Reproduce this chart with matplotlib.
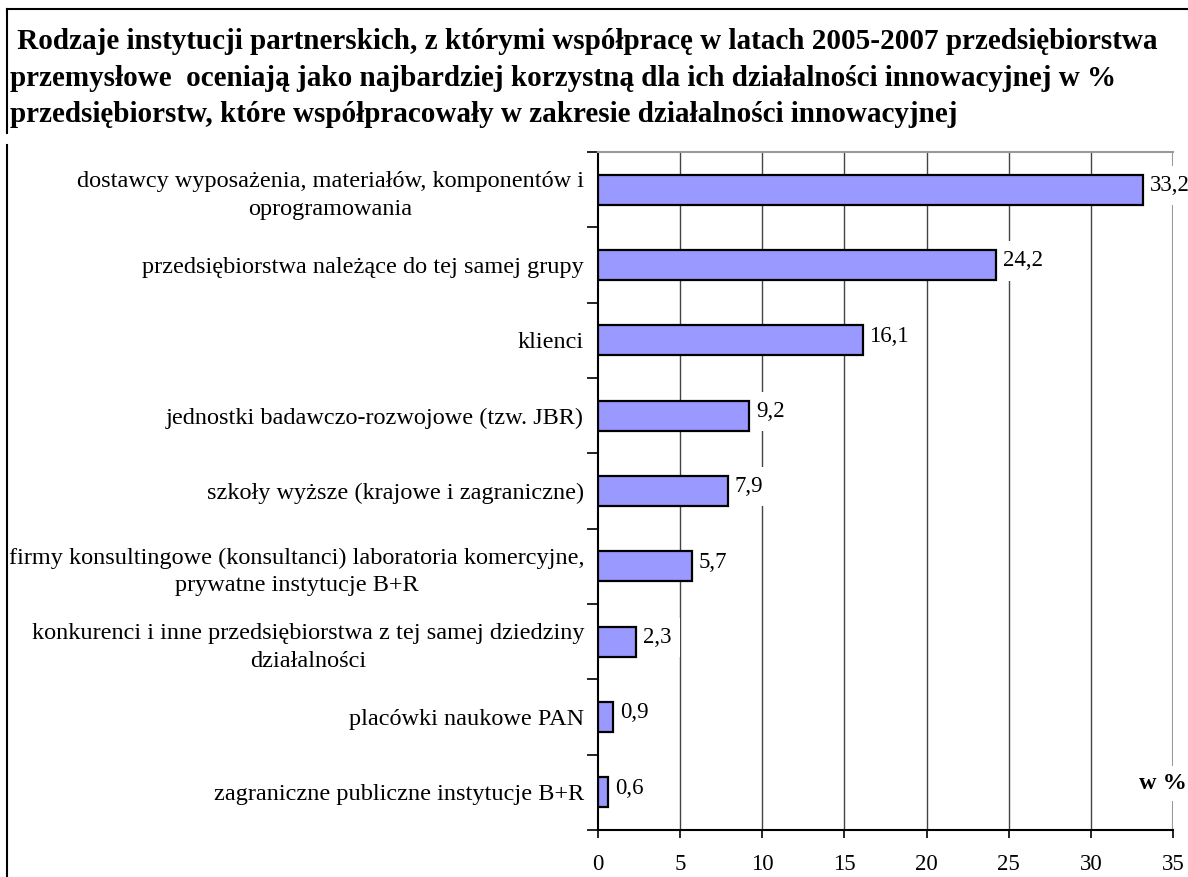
import numpy as np
import matplotlib
matplotlib.use('Agg')
import matplotlib.pyplot as plt
from matplotlib.lines import Line2D

plt.rcParams['font.family'] = ['Liberation Serif', 'DejaVu Serif']

# ── Data ───────────────────────────────────────────────────────────────────
categories = [
    'dostawcy wyposażenia, materiałów, komponentów i\noprogramowania',
    'przedsiębiorstwa należące do tej samej grupy',
    'klienci',
    'jednostki badawczo-rozwojowe (tzw. JBR)',
    'szkoły wyższe (krajowe i zagraniczne)',
    'firmy konsultingowe (konsultanci) laboratoria komercyjne,\nprywatne instytucje B+R',
    'konkurenci i inne przedsiębiorstwa z tej samej dziedziny\ndziałalności',
    'placówki naukowe PAN',
    'zagraniczne publiczne instytucje B+R',
]
values = [33.2, 24.2, 16.1, 9.2, 7.9, 5.7, 2.3, 0.9, 0.6]
xticks = [0, 5, 10, 15, 20, 25, 30, 35]

title = (' Rodzaje instytucji partnerskich, z którymi współpracę w latach 2005-2007 przedsiębiorstwa\n'
         'przemysłowe  oceniają jako najbardziej korzystną dla ich działalności innowacyjnej w %\n'
         'przedsiębiorstw, które współpracowały w zakresie działalności innowacyjnej')

W, H = 1188, 877
fig = plt.figure(figsize=(W / 100, H / 100), dpi=100)
ax = fig.add_axes([598 / W, 1 - 830 / H, (1173 - 598) / W, (830 - 152) / H])

y = np.arange(len(categories))
ax.barh(y, values, height=0.4, color='#9999FF', edgecolor='black',
        linewidth=1.6, zorder=3)

ax.set_xlim(0, 35)
ax.set_ylim(len(categories) - 0.5, -0.5)

# vertical gridlines + grey right edge
for xv in xticks[1:-1]:
    ax.axvline(xv, color='#444444', lw=1.0, zorder=1)
ax.axvline(35, color='#999999', lw=1.5, zorder=1)

ax.spines['right'].set_visible(False)
ax.spines['top'].set_color('#999999')
ax.spines['top'].set_linewidth(1.5)
ax.spines['left'].set_linewidth(1.5)
ax.spines['bottom'].set_linewidth(1.5)

ax.set_xticks(xticks)
ax.set_xticklabels([str(t) for t in xticks], fontsize=16.5)
ax.tick_params(axis='x', direction='out', length=6, width=1.2, pad=11)

ax.set_yticks(y)
ax.set_yticklabels(categories, fontsize=17.5, linespacing=1.4)
ax.tick_params(axis='y', which='major', length=0, pad=10)
for lab in ax.get_yticklabels():
    lab.set_multialignment('center')
ax.set_yticks(np.arange(len(categories) + 1) - 0.5, minor=True)
ax.tick_params(axis='y', which='minor', direction='out', length=8, width=1.2)

# value labels
for yi, v in zip(y, values):
    ax.annotate(f'{v:.1f}'.replace('.', ','), xy=(v, yi), xytext=(5, 3),
                textcoords='offset points', ha='left', va='center',
                fontsize=16.5, zorder=2,
                bbox=dict(boxstyle='square,pad=0.4', fc='white', ec='none'))

ax.annotate('w %', xy=(35, 7.88), xytext=(-7, 0), textcoords='offset points',
            ha='center', va='center', fontsize=17.5, fontweight='bold',
            annotation_clip=False, zorder=2,
            bbox=dict(boxstyle='square,pad=0.3', fc='white', ec='none'))

fig.text(10 / W, 1 - 78 / H, title, ha='left', va='center', fontsize=21,
         fontweight='bold', linespacing=1.45)

# outer frame lines
fig.add_artist(Line2D([7 / W, 1], [1 - 9 / H, 1 - 9 / H], color='black', lw=1.5,
                      transform=fig.transFigure))
fig.add_artist(Line2D([7 / W, 7 / W], [1 - 9 / H, 1 - 133 / H], color='black', lw=1.5,
                      transform=fig.transFigure))
fig.add_artist(Line2D([7 / W, 7 / W], [1 - 145 / H, 0], color='black', lw=1.5,
                      transform=fig.transFigure))

fig.savefig('out.png', dpi=100)
